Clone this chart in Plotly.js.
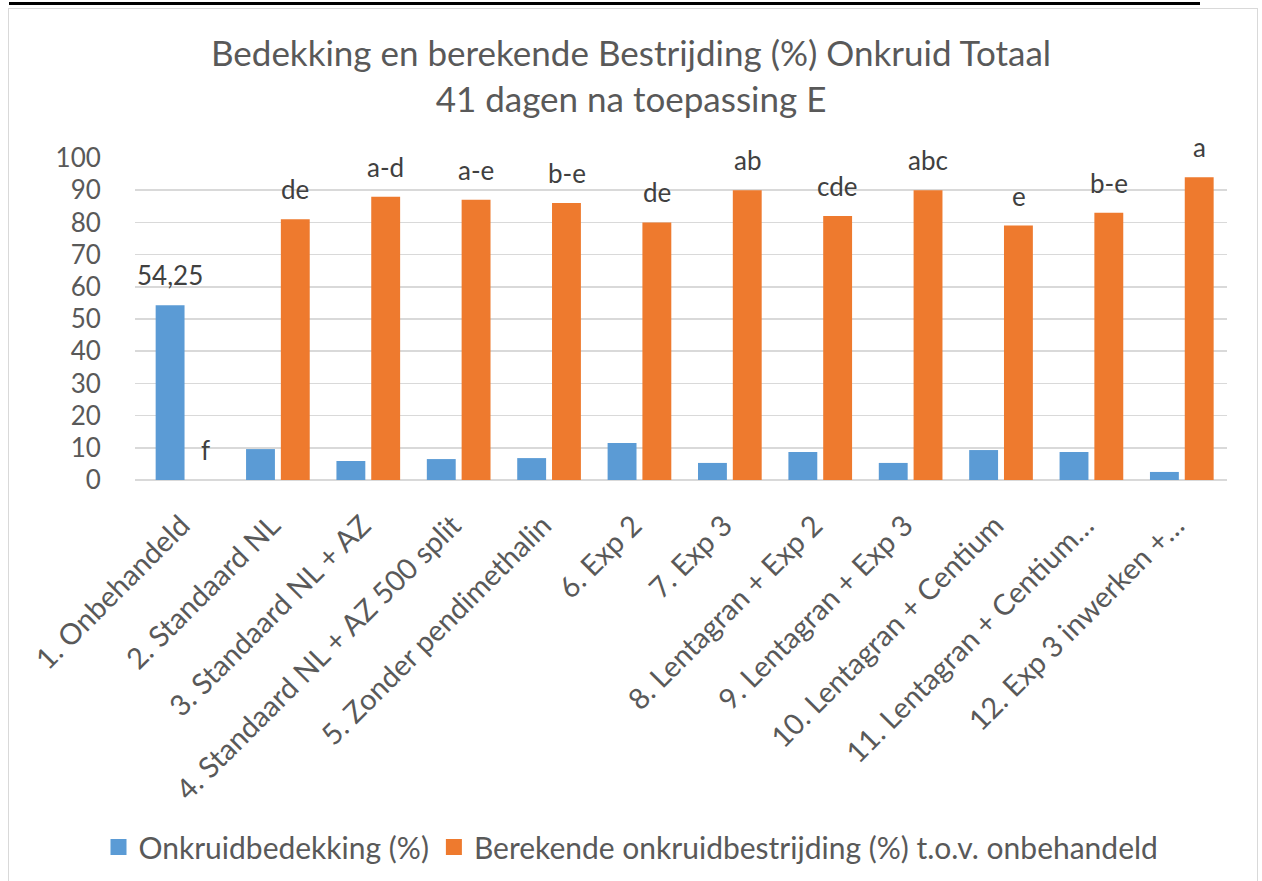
<!DOCTYPE html>
<html>
<head>
<meta charset="utf-8">
<script src="https://cdn.plot.ly/plotly-3.0.1.min.js"></script>
<style>
  html, body { margin: 0; padding: 0; background: #ffffff; }
  #wrap { position: relative; width: 1262px; height: 881px; overflow: hidden; }
  #chart { position: absolute; left: 0; top: 0; width: 1262px; height: 881px; }
  #frame { position: absolute; left: 8px; top: 8px; width: 1248px; height: 890px; border: 1px solid #d9d9d9; pointer-events: none; }
  #topline { position: absolute; left: 9px; top: 2px; width: 1191px; height: 3px; background: #000; pointer-events: none; }
</style>
</head>
<body>
<div id="wrap">
  <div id="chart"></div>
  <div id="frame"></div>
  <div id="topline"></div>
</div>
<script>
const categories = [
  "1. Onbehandeld",
  "2. Standaard NL",
  "3. Standaard NL + AZ",
  "4. Standaard NL + AZ 500 split",
  "5. Zonder pendimethalin",
  "6. Exp 2",
  "7. Exp 3",
  "8. Lentagran + Exp 2",
  "9. Lentagran + Exp 3",
  "10. Lentagran + Centium",
  "11. Lentagran + Centium\u2026",
  "12. Exp 3 inwerken +\u2026"
];
const bedekking = [54.25, 9.6, 5.9, 6.5, 6.8, 11.5, 5.3, 8.7, 5.3, 9.3, 8.7, 2.5];
const bestrijding = [0, 81, 88, 87, 86, 80, 90, 82, 90, 79, 83, 94];
const bedekkingLabels = ["54,25", "", "", "", "", "", "", "", "", "", "", ""];
const bestrijdingLabels = ["f", "de", "a-d", "a-e", "b-e", "de", "ab", "cde", "abc", "e", "b-e", "a"];
const seriesNames = ["Onkruidbedekking (%)", "Berekende onkruidbestrijding (%) t.o.v. onbehandeld"];
const yTicks = [0, 10, 20, 30, 40, 50, 60, 70, 80, 90, 100];

const FONT = "Lato, 'Open Sans', sans-serif";
const BLUE = "#5b9bd5";
const ORANGE = "#ee7a2e";
const COLORS = [BLUE, ORANGE];

const traces = [
  { type: "bar", name: seriesNames[0], x: categories, y: bedekking, legendgroup: "g0",
    showlegend: false, marker: { color: BLUE }, hoverinfo: "y" },
  { type: "bar", name: seriesNames[1], x: categories, y: bestrijding, legendgroup: "g1",
    showlegend: false, marker: { color: ORANGE }, hoverinfo: "y" }
];
// legend entries (square swatches) linked to the bar series
seriesNames.forEach((n, i) => {
  traces.push({
    type: "scatter", mode: "markers", name: n, legendgroup: "g" + i,
    x: [null], y: [null], showlegend: true,
    marker: { symbol: "square", size: 16, color: COLORS[i] }
  });
});

const annotations = [];
function addLabels(labels, values, shift) {
  labels.forEach((t, i) => {
    if (!t) return;
    annotations.push({
      x: categories[i], y: values[i], xref: "x", yref: "y",
      text: t, showarrow: false, xshift: shift, yshift: 12,
      yanchor: "bottom", xanchor: "center",
      font: { family: FONT, size: 26, color: "#404040" }
    });
  });
}
addLabels(bedekkingLabels, bedekking, -17.5);
addLabels(bestrijdingLabels, bestrijding, 17.5);

const layout = {
  width: 1262, height: 881,
  margin: { l: 135, r: 35, t: 158, b: 401, pad: 0 },
  paper_bgcolor: "rgba(0,0,0,0)", plot_bgcolor: "rgba(0,0,0,0)",
  font: { family: FONT, color: "#595959" },
  title: {
    text: "Bedekking en berekende Bestrijding (%) Onkruid Totaal<br>41 dagen na toepassing E",
    font: { family: FONT, size: 35, color: "#595959" },
    x: 0.5, xref: "container", xanchor: "center",
    y: 1 - 66 / 881, yref: "container", yanchor: "middle"
  },
  barmode: "group", bargap: 0.23, bargroupgap: 0.17,
  xaxis: {
    type: "category", tickangle: -45, showgrid: false, zeroline: false,
    showline: false, ticks: "outside", ticklen: 16, tickcolor: "rgba(0,0,0,0)",
    ticklabelshift: -6,
    tickfont: { family: FONT, size: 29, color: "#595959" }
  },
  yaxis: {
    range: [0, 100], tickvals: yTicks, ticktext: yTicks.map(String),
    showgrid: true, gridcolor: "#d9d9d9", gridwidth: 1.5,
    zeroline: true, zerolinecolor: "#d9d9d9", zerolinewidth: 1.5,
    showline: false, ticks: "outside", ticklen: 28, tickcolor: "rgba(0,0,0,0)",
    tickfont: { family: FONT, size: 26, color: "#595959" }
  },
  showlegend: true,
  legend: {
    orientation: "h", x: 0.5, xref: "container", xanchor: "center",
    y: 1 - 847 / 881, yref: "container", yanchor: "middle",
    font: { family: FONT, size: 30, color: "#595959" },
    itemsizing: "trace", traceorder: "normal", itemwidth: 30
  },
  annotations: annotations
};

Plotly.newPlot("chart", traces, layout, { staticPlot: true, displayModeBar: false });
</script>
</body>
</html>
